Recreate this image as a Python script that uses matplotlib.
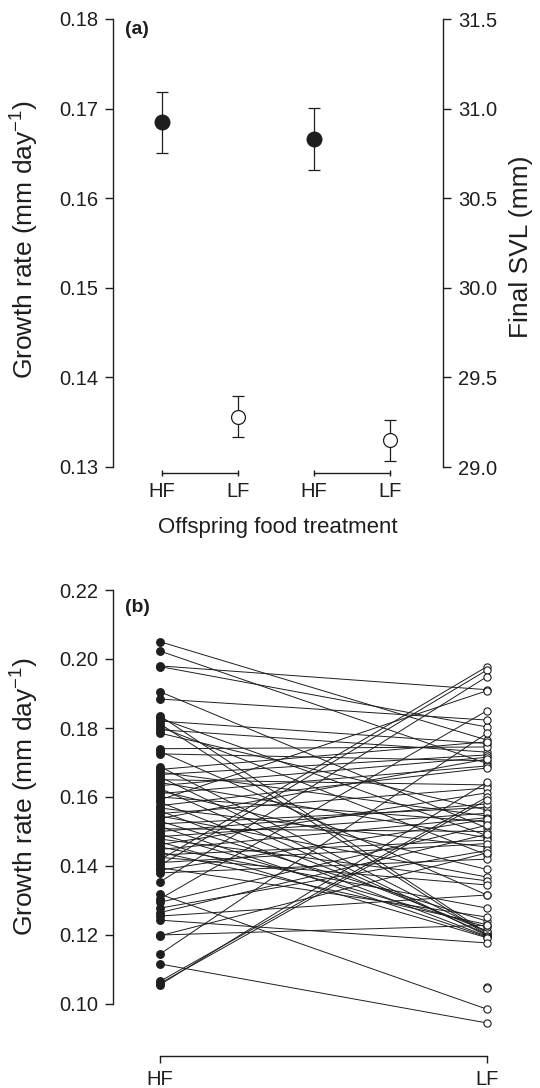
import numpy as np
import matplotlib
matplotlib.use('Agg')
from matplotlib import pyplot as plt

plt.rcParams['font.family'] = ['Liberation Sans', 'DejaVu Sans']
plt.rcParams['mathtext.fontset'] = 'custom'
plt.rcParams['mathtext.rm'] = 'Liberation Sans'
plt.rcParams['mathtext.it'] = 'Liberation Sans:italic'
plt.rcParams['mathtext.bf'] = 'Liberation Sans:bold'

# ---- data, panel (a): means +- SE by offspring food treatment
food_labels = ['HF', 'LF', 'HF', 'LF']
growth_mean = [0.1685, 0.1356]
growth_se = [0.0034, 0.0023]
svl_mean = [30.83, 29.15]
svl_se = [0.175, 0.115]

# ---- data, panel (b): growth rate of each individual under HF and LF
hf_rate = [0.2050, 0.2023, 0.1980, 0.1978, 0.1905, 0.1884, 0.1835, 0.1828,
           0.1820, 0.1812, 0.1803, 0.1795, 0.1785, 0.1740, 0.1732, 0.1725,
           0.1688, 0.1680, 0.1672, 0.1665, 0.1658, 0.1650, 0.1642, 0.1633,
           0.1625, 0.1618, 0.1610, 0.1600, 0.1592, 0.1585, 0.1575, 0.1568,
           0.1560, 0.1552, 0.1545, 0.1538, 0.1530, 0.1522, 0.1515, 0.1508,
           0.1500, 0.1492, 0.1485, 0.1478, 0.1470, 0.1462, 0.1455, 0.1448,
           0.1440, 0.1432, 0.1425, 0.1418, 0.1410, 0.1402, 0.1395, 0.1388,
           0.1380, 0.1354, 0.1318, 0.1305, 0.1295, 0.1278, 0.1265, 0.1255,
           0.1243, 0.1200, 0.1198, 0.1145, 0.1116, 0.1066, 0.1060, 0.1056,
           np.nan, np.nan]
lf_rate = [0.1765, 0.1697, 0.1911, 0.1803, 0.1510, 0.1823, 0.1205, 0.1488,
           0.1755, 0.1200, 0.1432, 0.1730, 0.1562, 0.1745, 0.1316, 0.1705,
           0.1208, 0.1760, 0.1545, 0.1722, 0.1198, 0.1635, 0.1482, 0.1715,
           0.1202, 0.1390, 0.1690, 0.1528, 0.1908, 0.1212, 0.1684, 0.1455,
           0.1196, 0.1626, 0.1368, 0.1710, 0.1240, 0.1570, 0.1194, 0.1500,
           0.1580, 0.1223, 0.1553, 0.1357, 0.1192, 0.1612, 0.1278, 0.1540,
           0.1230, 0.1475, 0.1345, 0.1978, 0.1465, 0.1968, 0.1252, 0.1535,
           0.1420, 0.1949, 0.0985, 0.1850, 0.1518, 0.1445, 0.1492, 0.1316,
           0.1177, 0.1228, 0.1438, 0.1785, 0.0945, 0.1600, 0.1592, 0.1643,
           0.1050, 0.1046]

W, H = 540, 1088
INK = '#1e1e1e'
TICK_FS = 14.5
LABEL_FS = 19


def box(left, top, right, bottom):
    return [left / W, 1 - bottom / H, (right - left) / W, (bottom - top) / H]


def ftext(x, y, s, **kw):
    fig.text(x / W, 1 - y / H, s, ha='center', va='center', color=INK, **kw)


fig = plt.figure(figsize=(W / 100, H / 100), dpi=100)

# ---------------- panel (a)
ax = fig.add_axes(box(113, 19, 443, 467))
ax2 = ax.twinx()
ax.set_xlim(0.355, 4.697)
ax.set_ylim(0.13, 0.18)
ax2.set_ylim(29.0, 31.5)

ax.errorbar([1, 2], growth_mean, yerr=growth_se, fmt='none', ecolor=INK,
            elinewidth=0.9, capsize=4.3, capthick=0.9, zorder=2)
ax.plot([1], growth_mean[:1], 'o', ms=10.5, color=INK, zorder=3)
ax.plot([2], growth_mean[1:], 'o', ms=10, mfc='white', mec=INK, mew=0.9, zorder=3)
ax2.errorbar([3, 4], svl_mean, yerr=svl_se, fmt='none', ecolor=INK,
             elinewidth=0.9, capsize=4.3, capthick=0.9, zorder=2)
ax2.plot([3], svl_mean[:1], 'o', ms=10.5, color=INK, zorder=3)
ax2.plot([4], svl_mean[1:], 'o', ms=10, mfc='white', mec=INK, mew=0.9, zorder=3)

for a in (ax, ax2):
    for s in ('top', 'bottom'):
        a.spines[s].set_visible(False)
ax.spines['right'].set_visible(False)
ax2.spines['left'].set_visible(False)
ax.spines['left'].set_linewidth(1.0)
ax2.spines['right'].set_linewidth(1.0)
ax.spines['left'].set_color(INK)
ax2.spines['right'].set_color(INK)

ax.set_yticks([0.13, 0.14, 0.15, 0.16, 0.17, 0.18])
ax.set_yticklabels(['0.13', '0.14', '0.15', '0.16', '0.17', '0.18'])
ax2.set_yticks([29.0, 29.5, 30.0, 30.5, 31.0, 31.5])
ax2.set_yticklabels(['29.0', '29.5', '30.0', '30.5', '31.0', '31.5'])
ax.tick_params(axis='y', length=5.8, width=1.0, pad=5, labelsize=TICK_FS, colors=INK)
ax2.tick_params(axis='y', length=5.8, width=1.0, pad=5, labelsize=TICK_FS, colors=INK)

# group brackets below the axis
ax.spines['bottom'].set_position(('outward', 4.3))
ax.set_xticks([1, 2, 3, 4])
ax.set_xticklabels(food_labels)
ax.tick_params(axis='x', direction='inout', length=4.3, width=1.0, pad=4.5,
               labelsize=TICK_FS, colors=INK)
ax2.tick_params(axis='x', length=0)
yb = -6 / 448
ax.plot([1, 2], [yb, yb], color=INK, lw=1.0, clip_on=False,
        transform=ax.get_xaxis_transform())
ax.plot([3, 4], [yb, yb], color=INK, lw=1.0, clip_on=False,
        transform=ax.get_xaxis_transform())

ftext(137, 29, '(a)', fontsize=14, fontweight='bold')
ftext(25, 240, 'Growth rate (mm day$^{-1}$)', fontsize=LABEL_FS, rotation=90)
ftext(521, 247, 'Final SVL (mm)', fontsize=LABEL_FS, rotation=90)
ftext(278, 527, 'Offspring food treatment', fontsize=16)

# ---------------- panel (b)
bx = fig.add_axes(box(113, 590, 520, 1038.5))
bx.set_xlim(0.856, 2.101)
bx.set_ylim(0.09, 0.22)

for h, l in zip(hf_rate, lf_rate):
    bx.plot([1, 2], [h, l], color=INK, lw=0.7, zorder=1)
bx.plot(np.ones(len(hf_rate)), hf_rate, 'o', ms=5.4, color=INK, zorder=3)
bx.plot(np.full(len(lf_rate), 2), lf_rate, 'o', ms=5.2, mfc='white',
        mec=INK, mew=0.8, zorder=3)

for s in ('top', 'right'):
    bx.spines[s].set_visible(False)
bx.spines['left'].set_bounds(0.10, 0.22)
bx.spines['left'].set_linewidth(1.0)
bx.spines['left'].set_color(INK)
bx.spines['bottom'].set_position(('outward', 12.6))
bx.spines['bottom'].set_bounds(1, 2)
bx.spines['bottom'].set_linewidth(1.0)
bx.spines['bottom'].set_color(INK)

yt = [0.10, 0.12, 0.14, 0.16, 0.18, 0.20, 0.22]
bx.set_yticks(yt)
bx.set_yticklabels(['%.2f' % v for v in yt])
bx.set_xticks([1, 2])
bx.set_xticklabels(['HF', 'LF'])
bx.tick_params(axis='y', length=5.8, width=1.0, pad=5, labelsize=TICK_FS, colors=INK)
bx.tick_params(axis='x', length=5, width=1.0, pad=5, labelsize=TICK_FS, colors=INK)

ftext(137, 607, '(b)', fontsize=14, fontweight='bold')
ftext(25, 797, 'Growth rate (mm day$^{-1}$)', fontsize=LABEL_FS, rotation=90)

fig.savefig('out.png', dpi=100)
